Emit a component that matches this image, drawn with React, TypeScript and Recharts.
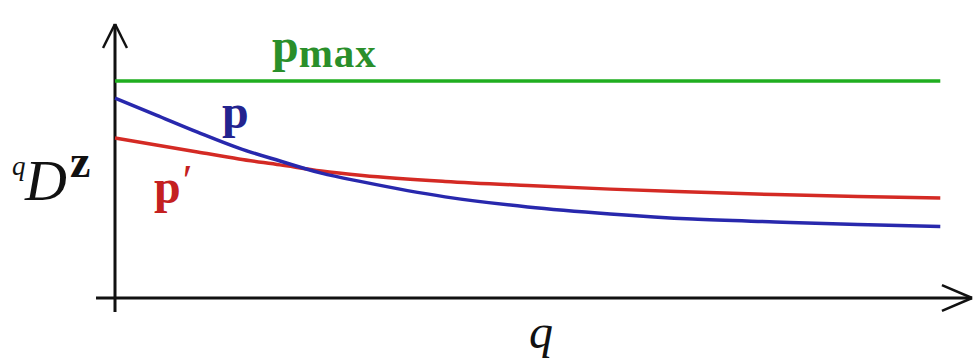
import { LineChart, Line, XAxis, YAxis, ReferenceLine } from 'recharts';

// values (arbitrary units, y axis 0..10)
const Q_VALUES = [0, 0.5, 1, 1.5, 2, 2.5, 3, 4, 5, 6, 7, 8, 9, 10];
const P_VALUES = [7.75, 7.09, 6.43, 5.81, 5.31, 4.84, 4.5, 3.92, 3.53, 3.26, 3.06, 2.95, 2.85, 2.77];
const P_PRIME_VALUES = [6.2, 5.93, 5.66, 5.39, 5.16, 4.92, 4.75, 4.52, 4.36, 4.22, 4.11, 4.01, 3.93, 3.88];
const P_MAX = 8.41;

const chartData = Q_VALUES.map((q, i) => ({
  q,
  p: P_VALUES[i],
  pPrime: P_PRIME_VALUES[i],
  pMax: P_MAX,
}));

const GREEN = '#1fae1f';
const BLUE = '#2828ad';
const RED = '#d42a24';
const SERIF = '"Liberation Serif", "DejaVu Serif", serif';

const axisStroke = { stroke: '#111', strokeWidth: 3, ifOverflow: 'visible' as const };

export default function App() {
  return (
    <div style={{ position: 'absolute', left: 0, top: 0, width: 973, height: 360, background: '#fff' }}>
      <LineChart
        width={973}
        height={360}
        data={chartData}
        margin={{ top: 40, right: 3, bottom: 62, left: 115 }}
      >
        <XAxis dataKey="q" type="number" domain={[0, 10.36]} hide />
        <YAxis type="number" domain={[0, 10]} hide />

        {/* axes with open arrow heads */}
        <ReferenceLine segment={[{ x: 0, y: -0.54 }, { x: 0, y: 10.62 }]} {...axisStroke} />
        <ReferenceLine segment={[{ x: -0.145, y: 9.69 }, { x: 0, y: 10.62 }]} {...axisStroke} strokeWidth={2.5} />
        <ReferenceLine segment={[{ x: 0.145, y: 9.69 }, { x: 0, y: 10.62 }]} {...axisStroke} strokeWidth={2.5} />
        <ReferenceLine segment={[{ x: -0.23, y: 0 }, { x: 10.385, y: 0 }]} {...axisStroke} />
        <ReferenceLine segment={[{ x: 10.02, y: 0.5 }, { x: 10.385, y: 0 }]} {...axisStroke} strokeWidth={2.5} />
        <ReferenceLine segment={[{ x: 10.02, y: -0.5 }, { x: 10.385, y: 0 }]} {...axisStroke} strokeWidth={2.5} />

        <Line dataKey="pMax" type="linear" stroke={GREEN} strokeWidth={3.5} dot={false} isAnimationActive={false} />
        <Line dataKey="pPrime" type="monotone" stroke={RED} strokeWidth={3.5} dot={false} isAnimationActive={false} />
        <Line dataKey="p" type="monotone" stroke={BLUE} strokeWidth={3.5} dot={false} isAnimationActive={false} />

        <text x={272} y={62} fontFamily={SERIF} fontWeight="bold" fill="#2a8f2a">
          <tspan fontSize={48}>p</tspan>
          <tspan fontSize={41} dy={5} letterSpacing={1}>max</tspan>
        </text>
        <text x={222} y={128} fontFamily={SERIF} fontWeight="bold" fontSize={48} fill="#23238f">
          p
        </text>
        <text x={154} y={203} fontFamily={SERIF} fontWeight="bold" fontSize={48} fill="#c42020">
          p<tspan fontWeight="normal" fontSize={44} dy={-8} dx={2}>′</tspan>
        </text>

        <text fontFamily={SERIF} fill="#111">
          <tspan x={12} y={175} fontStyle="italic" fontSize={27}>q</tspan>
          <tspan x={25} y={200} fontStyle="italic" fontSize={58}>D</tspan>
          <tspan x={70} y={177} fontWeight="bold" fontSize={46}>z</tspan>
        </text>
        <text x={529} y={348} fontFamily={SERIF} fontStyle="italic" fontSize={48} fill="#111">
          q
        </text>
      </LineChart>
    </div>
  );
}
